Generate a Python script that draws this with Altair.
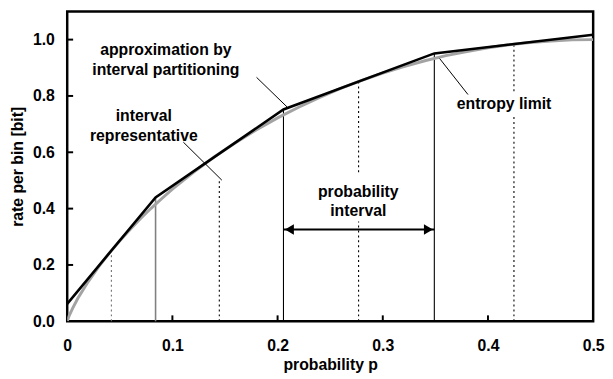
import altair as alt
import pandas as pd

# ---- data ----
p_vals = [0, 0.002, 0.005, 0.01, 0.02, 0.03, 0.04, 0.05, 0.06, 0.07, 0.08, 0.09, 0.1,
          0.12, 0.14, 0.16, 0.18, 0.2, 0.22, 0.24, 0.26, 0.28, 0.3, 0.32, 0.34, 0.36,
          0.38, 0.4, 0.42, 0.44, 0.46, 0.48, 0.5]
h_vals = [0, 0.021, 0.045, 0.081, 0.141, 0.194, 0.242, 0.286, 0.327, 0.366, 0.402, 0.436, 0.469,
          0.529, 0.584, 0.634, 0.680, 0.722, 0.760, 0.795, 0.827, 0.855, 0.881, 0.904, 0.925, 0.943,
          0.958, 0.971, 0.982, 0.990, 0.995, 0.999, 1.0]

approx_p = [0, 0.084, 0.2056, 0.349, 0.5]
approx_r = [0.062, 0.44, 0.752, 0.951, 1.017]

bound_p = [0.084, 0.2056, 0.349]
bound_top = [0.44, 0.752, 0.951]
bound_col = ["#808080", "#000000", "#000000"]
bound_w = [1.6, 1.1, 1.1]

dot_p = [0.042, 0.1446, 0.277, 0.277, 0.4247, 0.4247]
dot_lo = [0, 0, 0, 0.529, 0, 0.817]
dot_hi = [0.25, 0.501, 0.354, 0.85, 0.729, 0.984]
dot_col = ["#707070", "#000000", "#000000", "#000000", "#000000", "#000000"]

ptr_x1 = [0.180, 0.1104, 0.354]
ptr_y1 = [0.866, 0.636, 0.933]
ptr_x2 = [0.209, 0.147, 0.381]
ptr_y2 = [0.761, 0.501, 0.805]

arrow_x = [0.2056, 0.349]
arrow_y = 0.326

labels = ["approximation by", "interval partitioning", "interval", "representative",
          "probability", "interval", "entropy limit"]
label_x = [0.0938, 0.0938, 0.0728, 0.0728, 0.2767, 0.2767, 0.4153]
label_y = [0.963, 0.893, 0.729, 0.659, 0.460, 0.390, 0.772]

x_ticks = [0, 0.1, 0.2, 0.3, 0.4, 0.5]
y_ticks = [0, 0.2, 0.4, 0.6, 0.8, 1.0]

FONT = "Liberation Sans"
W, H = 533, 314

xs = alt.Scale(domain=[0, 0.5], nice=False)
ys = alt.Scale(domain=[0, 1.1], nice=False)

X = lambda f: alt.X(f, type="quantitative", scale=xs, axis=alt.Axis(
    values=x_ticks, title="probability p", grid=False, ticks=False, tickSize=0, domain=False,
    labelExpr="datum.value == 0 ? '0' : format(datum.value, '.1f')",
    labelPadding=17, titlePadding=3, labelFlush=False, labelOverlap=False))
Y = lambda f: alt.Y(f, type="quantitative", scale=ys, axis=alt.Axis(
    values=y_ticks, title="rate per bin [bit]", grid=False, ticks=False, tickSize=0, domain=False,
    format=".1f", labelPadding=13, titlePadding=7, labelFlush=False, labelOverlap=False))

ent = pd.DataFrame({"p": p_vals, "h": h_vals})
apx = pd.DataFrame({"p": approx_p, "r": approx_r})
bnd = pd.DataFrame({"p": bound_p, "top": bound_top, "c": bound_col, "w": bound_w, "z": [0] * 3})
dots = pd.DataFrame({"p": dot_p, "lo": dot_lo, "hi": dot_hi, "c": dot_col})
ptr = pd.DataFrame({"x1": ptr_x1, "y1": ptr_y1, "x2": ptr_x2, "y2": ptr_y2})
arr = pd.DataFrame({"x1": [arrow_x[0]], "x2": [arrow_x[1]], "y": [arrow_y]})
lab = pd.DataFrame({"t": labels, "x": label_x, "y": label_y})
xt = pd.DataFrame({"v": x_ticks[1:-1]})
yt = pd.DataFrame({"v": y_ticks[1:]})

base_axes = alt.Chart(ent).mark_line(color="#a3a3a3", strokeWidth=3, clip=True).encode(
    x=X("p"), y=Y("h"))

bounds = alt.Chart(bnd).mark_rule().encode(
    x=alt.X("p:Q", scale=xs), y=alt.Y("z:Q", scale=ys), y2="top:Q",
    color=alt.Color("c:N", scale=None), strokeWidth=alt.StrokeWidth("w:Q", scale=None))

dotted = alt.Chart(dots).mark_rule(strokeWidth=1.1, strokeDash=[2, 3]).encode(
    x=alt.X("p:Q", scale=xs), y=alt.Y("lo:Q", scale=ys), y2="hi:Q",
    color=alt.Color("c:N", scale=None))

approx = alt.Chart(apx).mark_line(color="#000000", strokeWidth=2.6).encode(
    x=alt.X("p:Q", scale=xs), y=alt.Y("r:Q", scale=ys))

pointers = alt.Chart(ptr).mark_rule(color="#000000", strokeWidth=1).encode(
    x=alt.X("x1:Q", scale=xs), y=alt.Y("y1:Q", scale=ys), x2="x2:Q", y2="y2:Q")

arrow_line = alt.Chart(arr).mark_rule(color="#000000", strokeWidth=2).encode(
    x=alt.X("x1:Q", scale=xs), x2="x2:Q", y=alt.Y("y:Q", scale=ys))
head_l = alt.Chart(arr).mark_point(shape="triangle-left", filled=True, color="#000000",
                                   size=110, opacity=1, xOffset=6).encode(
    x=alt.X("x1:Q", scale=xs), y=alt.Y("y:Q", scale=ys))
head_r = alt.Chart(arr).mark_point(shape="triangle-right", filled=True, color="#000000",
                                   size=110, opacity=1, xOffset=-6).encode(
    x=alt.X("x2:Q", scale=xs), y=alt.Y("y:Q", scale=ys))

texts = alt.Chart(lab).mark_text(font=FONT, fontSize=16, fontWeight="bold", color="#000000",
                                 align="center", baseline="middle").encode(
    x=alt.X("x:Q", scale=xs), y=alt.Y("y:Q", scale=ys), text="t:N")

xticks = alt.Chart(xt).mark_rule(color="#000000", strokeWidth=2).encode(
    x=alt.X("v:Q", scale=xs), y=alt.value(H), y2=alt.value(H - 6))
yticks = alt.Chart(yt).mark_rule(color="#000000", strokeWidth=2).encode(
    y=alt.Y("v:Q", scale=ys), x=alt.value(0), x2=alt.value(6))

chart = alt.layer(
    bounds, dotted, base_axes, approx, pointers, arrow_line, head_l, head_r, texts, xticks, yticks
).properties(
    width=W, height=H,
    autosize=alt.AutoSizeParams(type="none"),
    padding={"left": 60, "top": 1, "right": 12, "bottom": 56},
    background="#ffffff",
).configure_view(
    stroke="#000000", strokeWidth=2.5
).configure_axis(
    labelFont=FONT, labelFontSize=16, labelFontWeight="bold", labelColor="#000000",
    titleFont=FONT, titleFontSize=16, titleFontWeight="bold", titleColor="#000000",
)

chart.save("out.html", embed_options={"renderer": "svg", "actions": False})
